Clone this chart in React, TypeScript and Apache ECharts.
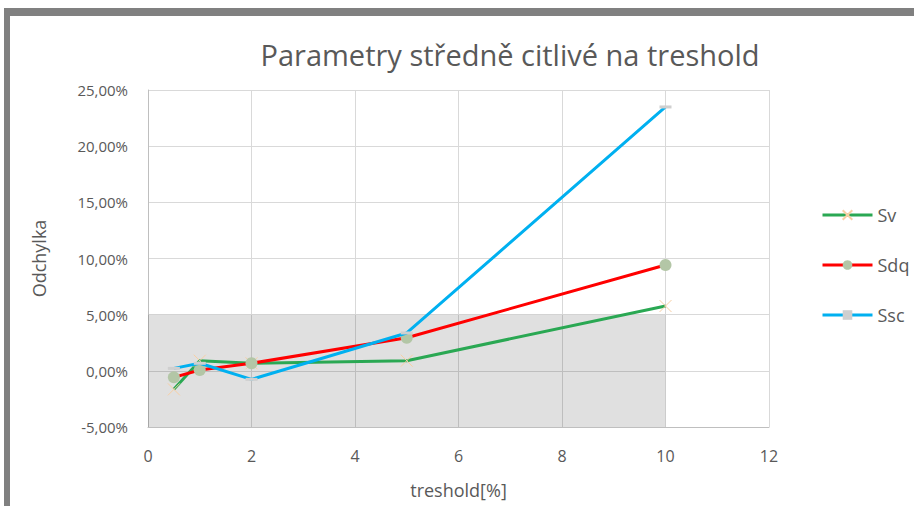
import React, { useEffect, useRef } from "react";
import * as echarts from "echarts";

const thresholds = [0.5, 1, 2, 5, 10];
const svValues = [-1.65, 0.9, 0.67, 0.9, 5.77];
const sdqValues = [-0.58, 0.07, 0.67, 2.95, 9.42];
const sscValues = [0.22, 0.67, -0.76, 3.37, 23.49];
const seriesNames = ["Sv", "Sdq", "Ssc"];
const titleText = "Parametry středně citlivé na treshold";
const xName = "treshold[%]";
const yName = "Odchylka";

const FONT = "'Open Sans', sans-serif";
const TXT = "#595959";

export default function App() {
  const ref = useRef<HTMLDivElement>(null);
  useEffect(() => {
    if (!ref.current) return;
    const chart = echarts.init(ref.current, null, { renderer: "svg" });
    const pairs = (vals: number[]) => thresholds.map((t, i) => [t, vals[i]]);
    chart.setOption({
      animation: false,
      backgroundColor: "#ffffff",
      textStyle: { fontFamily: FONT, color: TXT },
      title: {
        text: titleText,
        left: 505,
        top: 35,
        textAlign: "center",
        textStyle: { fontFamily: FONT, fontSize: 29, fontWeight: "normal", color: TXT },
      },
      graphic: [
        { type: "rect", shape: { x: 4, y: 8, width: 910, height: 8 }, style: { fill: "#808080" } },
        { type: "rect", shape: { x: 4, y: 8, width: 6, height: 498 }, style: { fill: "#808080" } },
      ],
      legend: {
        orient: "vertical",
        left: 816,
        top: 201,
        itemWidth: 50,
        itemHeight: 12,
        itemGap: 32,
        lineStyle: { width: 3 },
        textStyle: { fontFamily: FONT, fontSize: 18, color: TXT },
        data: seriesNames,
      },
      grid: { left: 148, right: 145, top: 90, bottom: 79 },
      xAxis: {
        type: "value",
        min: 0,
        max: 12,
        interval: 2,
        name: xName,
        nameLocation: "middle",
        nameGap: 54,
        nameTextStyle: { fontFamily: FONT, fontSize: 18, color: TXT },
        axisLine: { onZero: false, lineStyle: { color: "#bfbfbf", width: 1 } },
        axisTick: { show: false },
        axisLabel: { fontFamily: FONT, fontSize: 16, color: TXT, margin: 21 },
        splitLine: { show: true, lineStyle: { color: "#d9d9d9", width: 1 } },
      },
      yAxis: {
        type: "value",
        min: -5,
        max: 25,
        interval: 5,
        name: yName,
        nameLocation: "middle",
        nameGap: 100,
        nameTextStyle: { fontFamily: FONT, fontSize: 18, color: TXT },
        axisLine: { show: true, lineStyle: { color: "#bfbfbf", width: 1 } },
        axisTick: { show: false },
        axisLabel: {
          fontFamily: FONT,
          fontSize: 15,
          color: TXT,
          margin: 20,
          formatter: (v: number) => v.toFixed(2).replace(".", ",") + "%",
        },
        splitLine: { show: true, lineStyle: { color: "#d9d9d9", width: 1 } },
      },
      series: [
        {
          name: "Sv",
          type: "line",
          data: pairs(svValues),
          symbol: "path://M0,0L10,10M10,0L0,10",
          symbolSize: 12,
          showAllSymbol: true,
          lineStyle: { color: "#2aa853", width: 3 },
          itemStyle: { color: "#f8cfa4", borderColor: "#f8cfa4", borderWidth: 1 },
          markArea: {
            silent: true,
            itemStyle: { color: "rgba(0,0,0,0.12)" },
            data: [[{ coord: [0, -5] }, { coord: [10, 5] }]],
          },
          z: 3,
        },
        {
          name: "Sdq",
          type: "line",
          data: pairs(sdqValues),
          symbol: "circle",
          symbolSize: 12,
          lineStyle: { color: "#ff0000", width: 3 },
          itemStyle: { color: "#b3c6a6", borderWidth: 0 },
          z: 4,
        },
        {
          name: "Ssc",
          type: "line",
          data: pairs(sscValues),
          symbol: "rect",
          symbolSize: [12, 3],
          lineStyle: { color: "#00b0f0", width: 3 },
          itemStyle: { color: "#cfcfcf", borderWidth: 0 },
          z: 5,
        },
      ],
    });
    return () => chart.dispose();
  }, []);
  return (
    <div
      ref={ref}
      style={{ position: "absolute", left: 0, top: 0, width: 914, height: 506 }}
    />
  );
}
